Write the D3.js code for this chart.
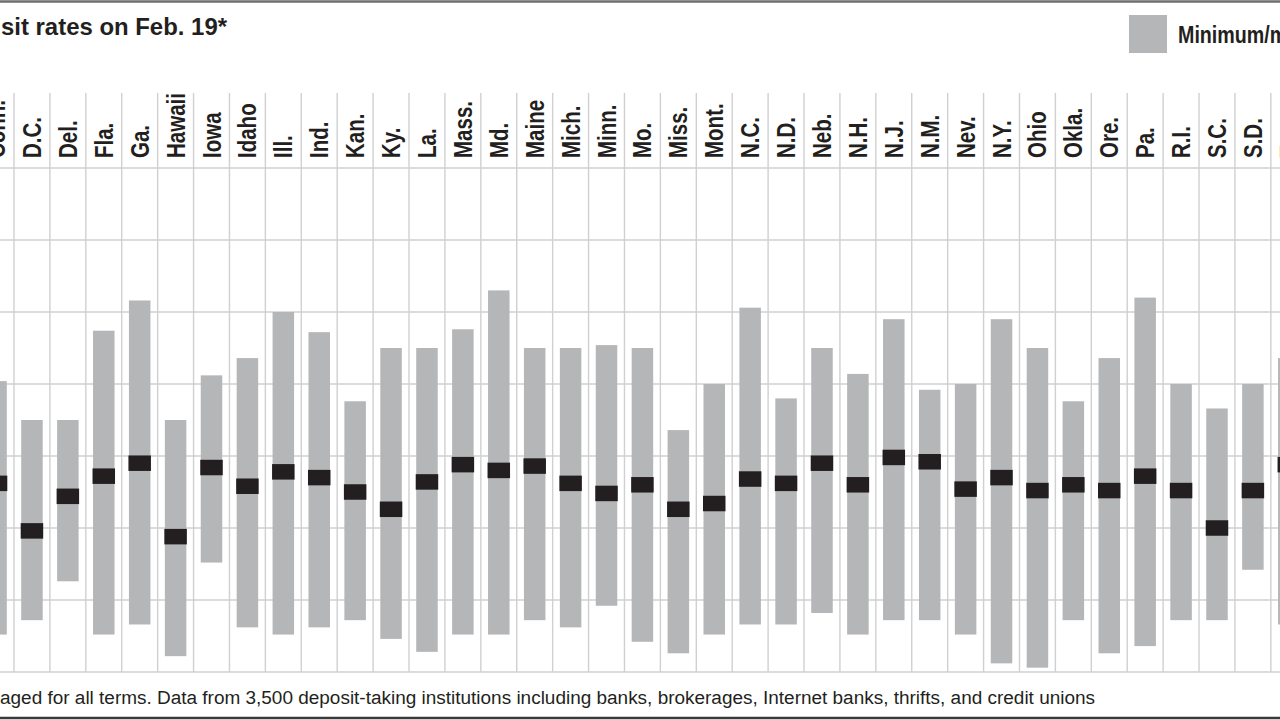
<!DOCTYPE html>
<html>
<head>
<meta charset="utf-8">
<script src="https://cdn.jsdelivr.net/npm/d3@7/dist/d3.min.js"></script>
<style>
  html, body { margin: 0; padding: 0; background: #fff; overflow: hidden; }
  svg { display: block; }
  text { font-family: "Liberation Sans", Arial, sans-serif; }
</style>
</head>
<body>
<svg width="1280" height="720"></svg>
<script>
// states in postal-code order, Conn. and Tenn. are cut at the edges
const states = ["Conn.", "D.C.", "Del.", "Fla.", "Ga.", "Hawaii", "Iowa", "Idaho", "Ill.", "Ind.",
  "Kan.", "Ky.", "La.", "Mass.", "Md.", "Maine", "Mich.", "Minn.", "Mo.", "Miss.", "Mont.",
  "N.C.", "N.D.", "Neb.", "N.H.", "N.J.", "N.M.", "Nev.", "N.Y.", "Ohio", "Okla.", "Ore.",
  "Pa.", "R.I.", "S.C.", "S.D.", "Tenn."];

const minRate = [0.26, 0.36, 0.63, 0.26, 0.33, 0.11, 0.76, 0.31, 0.26, 0.31,
  0.36, 0.23, 0.14, 0.26, 0.26, 0.36, 0.31, 0.46, 0.21, 0.13, 0.26,
  0.33, 0.33, 0.41, 0.26, 0.36, 0.36, 0.26, 0.06, 0.03, 0.36, 0.13,
  0.18, 0.36, 0.36, 0.71, 0.33];

const maxRate = [2.02, 1.75, 1.75, 2.37, 2.58, 1.75, 2.06, 2.18, 2.50, 2.36,
  1.88, 2.25, 2.25, 2.38, 2.65, 2.25, 2.25, 2.27, 2.25, 1.68, 2.00,
  2.53, 1.90, 2.25, 2.07, 2.45, 1.96, 2.00, 2.45, 2.25, 1.88, 2.18,
  2.60, 2.00, 1.83, 2.00, 2.18];

const avgRate = [1.31, 0.98, 1.22, 1.36, 1.45, 0.94, 1.42, 1.29, 1.39, 1.35,
  1.25, 1.13, 1.32, 1.44, 1.40, 1.43, 1.31, 1.24, 1.30, 1.13, 1.17,
  1.34, 1.31, 1.45, 1.30, 1.49, 1.46, 1.27, 1.35, 1.26, 1.30, 1.26,
  1.36, 1.26, 1.00, 1.26, 1.44];

const yTicks = [0, 0.5, 1, 1.5, 2, 2.5, 3, 3.5];

const titleText = "sit rates on Feb. 19*";
const legendText = "Minimum/maximum";
const noteText = "aged for all terms. Data from 3,500 deposit-taking institutions including banks, brokerages, Internet banks, thrifts, and credit unions";

const svg = d3.select("svg");
const width = 1280;
const ink = "#231f20";

const step = 35.91;
const left = 14 - step;
const x = d3.scaleBand()
  .domain(states)
  .range([left, left + states.length * step]);

const y = d3.scaleLinear()
  .domain([0, 3.5])
  .range([672, 168]);

const barW = 21.5;
const markH = 15.5;
const gray = "#b5b6b8";
const gridColor = "#d0d0d0";
const squeeze = 0.82; // condensed look

const data = states.map((s, i) => ({ state: s, min: minRate[i], max: maxRate[i], avg: avgRate[i] }));

// grid
svg.append("g")
  .selectAll("line")
  .data(states.slice(1))
  .enter()
  .append("line")
  .attr("x1", d => x(d))
  .attr("x2", d => x(d))
  .attr("y1", 93)
  .attr("y2", y(0))
  .attr("stroke", gridColor)
  .attr("stroke-width", 1.4);

svg.append("g")
  .selectAll("line")
  .data(yTicks)
  .enter()
  .append("line")
  .attr("x1", 0)
  .attr("x2", width)
  .attr("y1", d => y(d))
  .attr("y2", d => y(d))
  .attr("stroke", gridColor)
  .attr("stroke-width", 1.4);

// min/max bars
svg.append("g")
  .selectAll("rect")
  .data(data)
  .enter()
  .append("rect")
  .attr("x", d => x(d.state) + (step - barW) / 2)
  .attr("width", barW)
  .attr("y", d => y(d.max))
  .attr("height", d => y(d.min) - y(d.max))
  .attr("fill", gray);

// average marks
svg.append("g")
  .selectAll("rect")
  .data(data)
  .enter()
  .append("rect")
  .attr("x", d => x(d.state) + (step - barW) / 2 - 0.5)
  .attr("width", barW + 1)
  .attr("y", d => y(d.avg) - markH / 2)
  .attr("height", markH)
  .attr("fill", ink);

// state labels
svg.append("g")
  .selectAll("text")
  .data(states)
  .enter()
  .append("text")
  .attr("transform", d => `translate(${x(d) + step / 2 + 9},158) rotate(-90) scale(${squeeze},1)`)
  .attr("text-anchor", "start")
  .attr("font-size", 25)
  .attr("font-weight", "bold")
  .attr("fill", ink)
  .text(d => d);

// title
svg.append("text")
  .attr("x", 1)
  .attr("y", 34.5)
  .attr("font-size", 24)
  .attr("font-weight", "bold")
  .attr("fill", ink)
  .attr("textLength", 226)
  .attr("lengthAdjust", "spacingAndGlyphs")
  .text(titleText);

// legend
svg.append("rect")
  .attr("x", 1129)
  .attr("y", 15)
  .attr("width", 38)
  .attr("height", 38)
  .attr("fill", gray);

svg.append("text")
  .attr("transform", `translate(1178,42.5) scale(${squeeze},1)`)
  .attr("font-size", 24)
  .attr("font-weight", "bold")
  .attr("fill", ink)
  .text(legendText);

// footnote
svg.append("text")
  .attr("x", 0)
  .attr("y", 704)
  .attr("font-size", 18)
  .attr("fill", ink)
  .attr("textLength", 1095)
  .attr("lengthAdjust", "spacingAndGlyphs")
  .text(noteText);

// frame lines
svg.append("line")
  .attr("x1", 0).attr("x2", width)
  .attr("y1", 1.5).attr("y2", 1.5)
  .attr("stroke", "#6e6e6e")
  .attr("stroke-width", 2.5);

svg.append("line")
  .attr("x1", 0).attr("x2", width)
  .attr("y1", 718).attr("y2", 718)
  .attr("stroke", "#3a3a3a")
  .attr("stroke-width", 2.5);
</script>
</body>
</html>
